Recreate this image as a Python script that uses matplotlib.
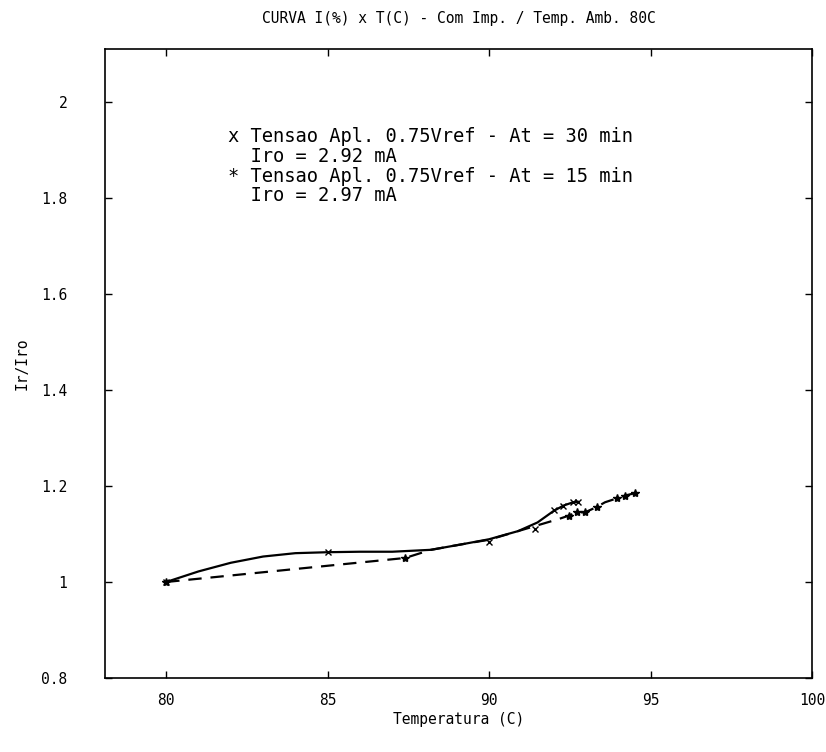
import matplotlib
matplotlib.use("Agg")
import matplotlib.pyplot as plt

# curve (solid, x markers, At = 30 min)
temp_30 = [80, 81, 82, 83, 84, 85, 86, 87, 88.2, 89.2, 90, 90.9, 91.5, 92.0, 92.3, 92.6, 92.75]
ratio_30 = [1.0, 1.022, 1.040, 1.053, 1.060, 1.062, 1.063, 1.063, 1.067, 1.079, 1.089, 1.106, 1.124, 1.148, 1.159, 1.166, 1.167]
mark_t_30 = [80, 85, 90, 91.42, 92.0, 92.3, 92.6, 92.75]
mark_r_30 = [1.0, 1.062, 1.083, 1.11, 1.149, 1.159, 1.166, 1.167]

# dashed, * markers, At = 15 min
temp_15 = [80, 87.4, 88.2, 89.2, 90, 91, 91.6, 92.15, 92.46, 92.71, 92.97, 93.33, 93.59, 93.95, 94.21, 94.52]
ratio_15 = [1.0, 1.050, 1.067, 1.079, 1.088, 1.108, 1.12, 1.131, 1.138, 1.145, 1.145, 1.156, 1.166, 1.174, 1.18, 1.185]
mark_t_15 = [80, 87.4, 92.46, 92.71, 92.97, 93.33, 93.95, 94.21, 94.52]
mark_r_15 = [1.0, 1.050, 1.138, 1.145, 1.145, 1.156, 1.174, 1.18, 1.185]

xticks = [80, 85, 90, 95, 100]
yticks = [0.8, 1.0, 1.2, 1.4, 1.6, 1.8, 2.0]
ytick_labels = ["0.8", "1", "1.2", "1.4", "1.6", "1.8", "2"]

legend_lines = ["x Tensao Apl. 0.75Vref - At = 30 min",
                "  Iro = 2.92 mA",
                "* Tensao Apl. 0.75Vref - At = 15 min",
                "  Iro = 2.97 mA"]

plt.rcParams['font.family'] = 'DejaVu Sans Mono'

fig = plt.figure(figsize=(8.26, 7.52), dpi=100)
ax = fig.add_axes([0.127, 0.0984, 0.856, 0.8364])

ax.plot(temp_30, ratio_30, color='black', linestyle='-', linewidth=1.6)
ax.plot(mark_t_30, mark_r_30, color='black', linestyle='none', marker='x', markersize=5)
ax.plot(temp_15, ratio_15, color='black', linestyle=(0, (6, 4)), linewidth=1.6)
ax.plot(mark_t_15, mark_r_15, color='black', linestyle='none', marker='*', markersize=6)

ax.set_xlim(78.1, 100)
ax.set_ylim(0.8, 2.11)
ax.set_xticks(xticks)
ax.set_xticklabels([str(t) for t in xticks], fontsize=10.5)
ax.set_yticks(yticks)
ax.set_yticklabels(ytick_labels, fontsize=10.5)
ax.tick_params(direction='in', top=True, right=True, length=5, width=1)
ax.tick_params(axis='x', pad=11)
ax.tick_params(axis='y', pad=27)
for s in ax.spines.values():
    s.set_linewidth(1.2)

ax.set_title("CURVA I(%) x T(C) - Com Imp. / Temp. Amb. 80C", fontsize=10.5, pad=19)
ax.set_xlabel("Temperatura (C)", fontsize=10.5, labelpad=3)
ax.set_ylabel("Ir/Iro", fontsize=10.5, labelpad=8)

for i, line in enumerate(legend_lines):
    fig.text(228 / 826, 1 - (137 + 19.5 * i) / 752, line, fontsize=13.5, va='center', ha='left')

fig.savefig("out.png", dpi=100)
